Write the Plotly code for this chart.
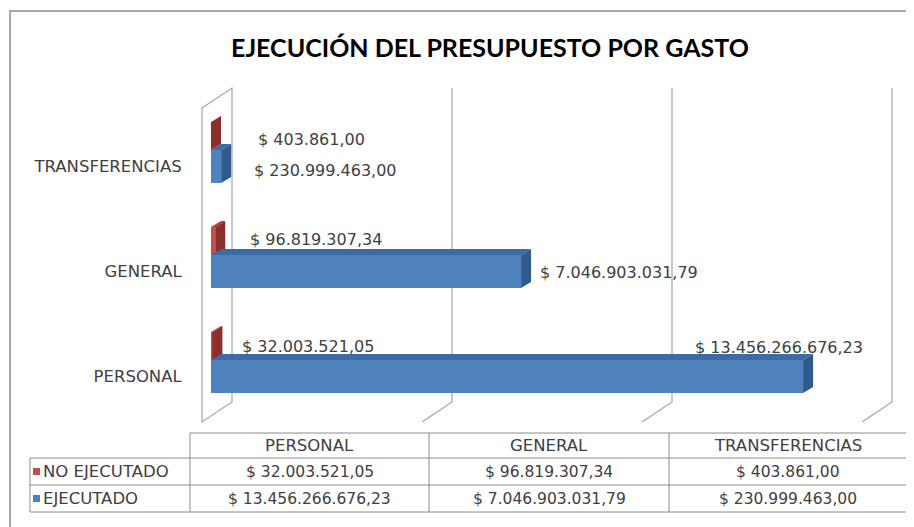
import plotly.graph_objects as go

# ---------------- data ----------------
categories = ["PERSONAL", "GENERAL", "TRANSFERENCIAS"]
series_names = ["NO EJECUTADO", "EJECUTADO"]
no_ejecutado = [32003521.05, 96819307.34, 403861.00]
ejecutado = [13456266676.23, 7046903031.79, 230999463.00]
grid_values = [5e9, 10e9, 15e9]
title_text = "EJECUCIÓN DEL PRESUPUESTO POR GASTO"


def fmt(v):
    s = f"{v:,.2f}".replace(",", "X").replace(".", ",").replace("X", ".")
    return "$ " + s


# ---------------- styling / frame ----------------
OFF = 8                 # default page body margin
W, H = 914 - OFF, 527 - OFF
FONT = "DejaVu Sans"
TITLE_FONT = "Lato"
TXT = "#404040"
BLUE, BLUE_TOP, BLUE_SIDE = "#4F81BD", "#3D6AA3", "#2E5A8E"
RED, RED_TOP, RED_SIDE = "#C0504D", "#A5403D", "#8E2E2B"
GRID = "#A6A6A6"

X0_PX = 211          # screen pixel where value 0 sits (bar front plane)
PX_PER_X = 44 / 1e9  # pixels per unit of value
Y0_PX = 376          # screen pixel of first category centre
PX_PER_Y = 105       # pixels per category step
PL, PR, PT, PB = 195, 905, 80, 430  # plot area screen bounds

x_range = [(PL - X0_PX) / PX_PER_X, (PR - X0_PX) / PX_PER_X]
y_range = [(Y0_PX - PB) / PX_PER_Y, (Y0_PX - PT) / PX_PER_Y]


def dxv(px):
    return px / PX_PER_X


def dyv(px):  # positive = upward
    return px / PX_PER_Y


def xv(p):
    return (p - X0_PX) / PX_PER_X


def yv(p):
    return (Y0_PX - p) / PX_PER_Y


def xp(p):
    return (p - OFF) / W


def yp(p):
    return 1 - (p - OFF) / H


pos = list(range(len(categories)))
BLUE_OFF, BLUE_W = -0.162, 0.314
RED_OFF, RED_W = 0.152, 0.267
DEPTH_X, DEPTH_Y = 10, 6  # bar extrusion in px

fig = go.Figure()
fig.add_trace(go.Bar(y=pos, x=ejecutado, orientation="h", name=series_names[1],
                     width=BLUE_W, offset=BLUE_OFF, marker=dict(color=BLUE, line=dict(width=0)),
                     hoverinfo="skip"))
fig.add_trace(go.Bar(y=pos, x=no_ejecutado, orientation="h", name=series_names[0],
                     width=RED_W, offset=RED_OFF, marker=dict(color=RED, line=dict(width=0)),
                     hoverinfo="skip"))

shapes = []


def poly(pts):
    return "M " + " L ".join(f"{x},{y}" for x, y in pts) + " Z"


# left wall (3D panel)
shapes.append(dict(type="path", xref="x", yref="y", layer="below",
                   path=poly([(xv(202), yv(108)), (xv(232), yv(88)), (xv(232), yv(402)), (xv(202), yv(422))]),
                   line=dict(color=GRID, width=1.2), fillcolor="white"))
# gridlines (back plane + floor slant)
for g in grid_values:
    gx = g + dxv(21)
    shapes.append(dict(type="path", xref="x", yref="y", layer="below",
                       path=f"M {gx},{yv(88)} L {gx},{yv(402)} L {gx - dxv(30)},{yv(422)}",
                       line=dict(color=GRID, width=1.2)))


def extrude(v, k, off, w, top_c, side_c):
    yb, yt = k + off, k + off + w
    ex, ey = dxv(DEPTH_X), dyv(DEPTH_Y)
    shapes.append(dict(type="path", xref="x", yref="y", layer="above",
                       path=poly([(0, yt), (v, yt), (v + ex, yt + ey), (ex, yt + ey)]),
                       line=dict(width=0), fillcolor=top_c))
    shapes.append(dict(type="path", xref="x", yref="y", layer="above",
                       path=poly([(v, yb), (v, yt), (v + ex, yt + ey), (v + ex, yb + ey)]),
                       line=dict(width=0), fillcolor=side_c))


for k in pos:
    extrude(no_ejecutado[k], k, RED_OFF, RED_W, RED_TOP, RED_SIDE)
for k in pos:
    extrude(ejecutado[k], k, BLUE_OFF, BLUE_W, BLUE_TOP, BLUE_SIDE)

annotations = []
# data labels (per-point placement offsets in px: xshift, yshift, xanchor)
red_label_style = [(28, 29, "left"), (33, 31, "left"), (45, 26, "left")]
blue_label_style = [(62, 28, "right"), (17, -2, "left"), (31, -5, "left")]
for k in pos:
    for vals, sty in ((no_ejecutado, red_label_style), (ejecutado, blue_label_style)):
        xs, ys, xa = sty[k]
        annotations.append(dict(x=vals[k], y=k, xref="x", yref="y", text=fmt(vals[k]),
                                showarrow=False, xanchor=xa, yanchor="middle",
                                xshift=xs, yshift=ys,
                                font=dict(family=FONT, size=16, color=TXT)))

# title
annotations.append(dict(x=xp(490), y=yp(47), xref="paper", yref="paper", text=f"<b>{title_text}</b>",
                        showarrow=False, xanchor="center", yanchor="middle",
                        font=dict(family=TITLE_FONT, size=25, color="black")))

# ---------------- data table ----------------
TL, TC1, TC2, TC3, TR = 30, 190, 429, 669, 907
TH, TR1, TR2, TB = 433, 458, 485, 512
tline = dict(color="#8C8C8C", width=1)
for y0 in (TR1, TR2, TB):
    shapes.append(dict(type="line", xref="paper", yref="paper", x0=xp(TL), x1=xp(TR),
                       y0=yp(y0), y1=yp(y0), line=tline))
shapes.append(dict(type="line", xref="paper", yref="paper", x0=xp(TC1), x1=xp(TR),
                   y0=yp(TH), y1=yp(TH), line=tline))
shapes.append(dict(type="line", xref="paper", yref="paper", x0=xp(TL), x1=xp(TL),
                   y0=yp(TR1), y1=yp(TB), line=tline))
for xc in (TC1, TC2, TC3, TR):
    shapes.append(dict(type="line", xref="paper", yref="paper", x0=xp(xc), x1=xp(xc),
                       y0=yp(TH), y1=yp(TB), line=tline))

col_centres = [(TC1 + TC2) / 2, (TC2 + TC3) / 2, (TC3 + TR) / 2]
cap_font = dict(family=FONT, size=16.5, color=TXT)
num_font = dict(family=FONT, size=15.5, color=TXT)
cell = dict(xref="paper", yref="paper", showarrow=False, xanchor="center", yanchor="middle")
for i, cat in enumerate(categories):
    annotations.append(dict(x=xp(col_centres[i]), y=yp((TH + TR1) / 2), text=cat, font=cap_font, **cell))
    annotations.append(dict(x=xp(col_centres[i]), y=yp((TR1 + TR2) / 2), text=fmt(no_ejecutado[i]),
                            font=num_font, **cell))
    annotations.append(dict(x=xp(col_centres[i]), y=yp((TR2 + TB) / 2), text=fmt(ejecutado[i]),
                            font=num_font, **cell))
for name, col, (ya, yb_) in ((series_names[0], RED, (TR1, TR2)), (series_names[1], BLUE, (TR2, TB))):
    yc = (ya + yb_) / 2
    shapes.append(dict(type="rect", xref="paper", yref="paper", x0=xp(33), x1=xp(40),
                       y0=yp(yc - 3.5), y1=yp(yc + 3.5), line=dict(width=0), fillcolor=col))
    annotations.append(dict(x=xp(41), y=yp(yc), xref="paper", yref="paper", showarrow=False,
                            text=name, xanchor="left", yanchor="middle", font=cap_font))

# outer chart border
shapes.append(dict(type="rect", xref="paper", yref="paper", x0=xp(10), x1=xp(W + 40),
                   y0=yp(11), y1=yp(H + 40), line=dict(color="#8C8C8C", width=1.5)))

fig.update_layout(
    width=W, height=H,
    margin=dict(l=0, r=0, t=0, b=0),
    paper_bgcolor="white", plot_bgcolor="rgba(0,0,0,0)",
    barmode="overlay", showlegend=False,
    xaxis=dict(domain=[xp(PL), xp(PR)], range=x_range, showgrid=False, zeroline=False,
               showline=False, showticklabels=False, ticks=""),
    yaxis=dict(domain=[yp(PB), yp(PT)], range=y_range, showgrid=False, zeroline=False,
               showline=False, tickvals=pos, ticktext=categories, ticks="outside", ticklen=9,
               tickcolor="rgba(0,0,0,0)", tickfont=dict(family=FONT, size=16.5, color=TXT)),
    shapes=shapes, annotations=annotations,
)

fig.write_html("out.html")
